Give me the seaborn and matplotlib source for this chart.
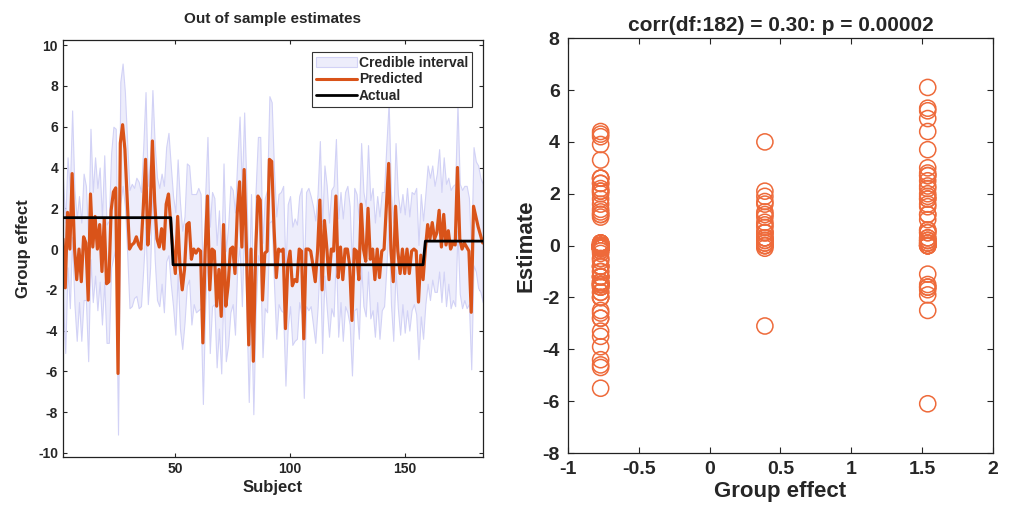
import numpy as np
import pandas as pd
import matplotlib
matplotlib.use("Agg")
import matplotlib.pyplot as plt
from matplotlib.patches import Patch
from matplotlib.lines import Line2D
import seaborn as sns

# values
predicted = [
    0.5, -1.9, 1.8, 0.0, 3.7, 0.1, -1.5, 0.0, -1.6, 0.6,
    0.3, -2.5, 2.7, 0.1, 1.6, 0.0, 1.2, -1.1, 1.5, -1.7,
    -1.6, 1.9, 2.8, 3.0, -6.1, 5.2, 6.1, 4.9, 2.5, 0.0,
    0.2, 0.3, 0.6, 0.2, 0.0, 2.0, 4.4, 0.2, 1.8, 5.3,
    2.3, 0.5, 0.1, 1.0, 0.0, 2.2, 2.7, 1.2, -0.1, -1.2,
    1.6, -0.8, -2.0, -1.0, 1.2, 1.3, -0.5, 0.0, -0.2, 0.0,
    -0.1, -4.6, -0.1, 2.6, -2.0, 0.0, -0.1, -2.8, -1.0, -3.3,
    1.2, -2.8, -1.8, 0.0, 0.1, -1.2, 1.8, 3.3, 0.1, 3.9,
    0.0, -4.7, 0.0, -5.5, -0.1, 2.6, 2.4, -2.5, -0.2, -0.1,
    4.4, 4.3, 1.1, -1.4, 0.0, -0.1, 0.0, -3.9, -0.8, -0.1,
    -1.8, -1.5, -1.6, 0.0, -0.1, -4.4, 0.0, 0.0, -0.1, -0.8,
    -1.6, -0.1, 2.4, -2.0, 1.4, 0.1, -1.5, 0.0, -0.1, 2.6,
    -1.4, 0.1, -1.5, 0.0, 0.0, -0.8, -3.5, 0.0, -0.1, -1.5,
    2.2, 0.0, -0.6, 2.0, -0.5, 0.0, -1.5, 0.0, -1.4, -0.1,
    0.0, 2.1, 4.2, 0.0, -1.6, 2.1, -0.1, -1.2, 0.0, -1.2,
    0.0, -1.2, -0.1, 0.0, -0.1, -2.6, -0.3, -1.5, 0.0, 1.2,
    0.5, 1.3, 0.5, 0.8, 1.9, 0.1, 1.7, 0.2, 0.9, 0.0,
    0.3, 0.2, 4.0, 0.5, 0.0, 0.3, 0.1, -0.1, -3.1, 2.1,
    1.6, 1.1, 0.7, 0.3,
]
half_width = [
    3.0, 3.2, 2.7, 2.9, 3.1, 2.8, 3.0, 2.6, 2.9, 3.1,
    2.8, 3.0, 3.2, 2.7, 2.9, 3.0, 2.8, 2.6, 3.1, 2.9,
    3.0, 2.8, 3.2, 2.9, 3.0, 3.0, 3.0, 2.8, 2.7, 2.9,
    3.0, 2.7, 2.9, 3.1, 2.8, 3.0, 3.3, 2.9, 2.7, 2.5,
    2.8, 3.0, 2.9, 2.7, 3.1, 2.8, 3.0, 2.9, 2.7, 3.0,
    2.8, 3.1, 2.9, 2.6, 3.0, 2.8, 3.2, 2.7, 2.9, 3.0,
    2.8, 3.0, 2.7, 2.9, 3.1, 2.8, 2.6, 3.0, 2.9, 2.8,
    3.0, 2.7, 2.9, 3.1, 2.8, 3.0, 2.6, 3.2, 2.9, 2.8,
    3.0, 2.8, 2.7, 2.6, 3.0, 2.9, 3.1, 2.8, 2.7, 3.0,
    3.1, 2.9, 2.8, 3.0, 2.7, 2.9, 3.1, 2.8, 3.0, 2.7,
    2.9, 3.0, 2.8, 2.6, 3.1, 2.9, 2.8, 3.0, 2.7, 2.9,
    3.0, 2.8, 2.9, 3.1, 2.7, 3.0, 2.8, 2.9, 3.2, 2.8,
    2.9, 2.7, 3.0, 2.8, 3.1, 2.9, 2.7, 3.0, 2.8, 2.9,
    3.0, 2.8, 2.7, 3.1, 2.9, 3.0, 2.8, 2.6, 3.0, 2.9,
    2.8, 3.0, 3.0, 2.7, 2.9, 3.1, 2.8, 3.0, 2.7, 2.9,
    3.0, 2.8, 2.9, 2.7, 3.1, 2.8, 3.0, 2.9, 2.7, 2.9,
    3.0, 2.8, 2.6, 2.9, 3.0, 2.7, 2.8, 3.0, 2.6, 2.9,
    2.8, 3.0, 3.1, 2.7, 2.9, 2.8, 3.0, 2.6, 2.8, 2.9,
    2.7, 3.0, 2.8, 2.9,
]
group_levels = [1.54, -0.77, 0.39]
group_sizes = [48, 110, 26]

left_yticks = [-10, -8, -6, -4, -2, 0, 2, 4, 6, 8, 10]
left_xticks = [50, 100, 150]
right_xticks = [-1, -0.5, 0, 0.5, 1, 1.5, 2]
right_xticklabels = ["-1", "-0.5", "0", "0.5", "1", "1.5", "2"]
right_yticks = [-8, -6, -4, -2, 0, 2, 4, 6, 8]

right_title = "corr(df:182) = 0.30: p = 0.00002"

ORANGE = "#D95319"
CIRCLE = "#EE6A3A"
BAND_FACE = "#EDEDFB"
BAND_EDGE = "#D2D2F6"

sns.set_style("ticks")
plt.rcParams["font.family"] = ["Liberation Sans", "DejaVu Sans"]
plt.rcParams["font.weight"] = "bold"
plt.rcParams["axes.labelweight"] = "bold"
plt.rcParams["axes.titleweight"] = "bold"
plt.rcParams["axes.unicode_minus"] = False
plt.rcParams["xtick.direction"] = "in"
plt.rcParams["ytick.direction"] = "in"
plt.rcParams["xtick.top"] = True
plt.rcParams["ytick.right"] = True
plt.rcParams["axes.edgecolor"] = "#222222"
plt.rcParams["axes.linewidth"] = 0.9

df = pd.DataFrame({
    "subject": np.arange(1, len(predicted) + 1),
    "predicted": predicted,
    "half_width": half_width,
    "actual": np.repeat(group_levels, group_sizes),
})
df["lower"] = df["predicted"] - df["half_width"]
df["upper"] = df["predicted"] + df["half_width"]

fig = plt.figure(figsize=(10.09, 5.16), dpi=100)
ax1 = fig.add_axes([0.0624, 0.1143, 0.416, 0.808])
ax2 = fig.add_axes([0.563, 0.122, 0.421, 0.804])

# left: out of sample estimates
ax1.fill_between(df["subject"], df["lower"], df["upper"], facecolor=BAND_FACE,
                 edgecolor=BAND_EDGE, linewidth=0.8, zorder=1)
sns.lineplot(data=df, x="subject", y="predicted", color=ORANGE, linewidth=2.3, ax=ax1, zorder=2)
sns.lineplot(data=df, x="subject", y="actual", color="black", linewidth=2.0, ax=ax1, zorder=3)
ax1.set_xlim(1, len(predicted))
ax1.set_ylim(-10.2, 10.25)
ax1.set_xticks(left_xticks)
ax1.set_yticks(left_yticks)
ax1.tick_params(labelsize=10, length=3, width=0.8)
ax1.set_title("Out of sample estimates", fontsize=11, pad=12)
ax1.set_xlabel("Subject", fontsize=12, labelpad=3)
ax1.set_ylabel("Group effect", fontsize=12, labelpad=5)
handles = [
    Patch(facecolor=BAND_FACE, edgecolor=BAND_EDGE, linewidth=0.8),
    Line2D([], [], color=ORANGE, linewidth=2.2),
    Line2D([], [], color="black", linewidth=2.0),
]
leg = ax1.legend(handles, ["Credible interval", "Predicted", "Actual"], loc="upper right",
                 bbox_to_anchor=(0.975, 0.972), borderaxespad=0, fontsize=10,
                 fancybox=False, framealpha=1, edgecolor="#333333", handlelength=2.9,
                 handletextpad=0.15, labelspacing=0.18, borderpad=0.3)
leg.get_frame().set_linewidth(0.8)

# right: estimate vs group effect
sns.scatterplot(data=df, x="actual", y="predicted", marker="o", s=135,
                facecolors="none", edgecolors=CIRCLE, linewidth=1.1, ax=ax2)
ax2.set_xlim(-1, 2)
ax2.set_ylim(-8, 8)
ax2.set_xticks(right_xticks)
ax2.set_xticklabels(right_xticklabels)
ax2.set_yticks(right_yticks)
ax2.tick_params(labelsize=14, length=4, width=0.8, pad=6)
ax2.set_title(right_title, fontsize=15, pad=5)
ax2.set_xlabel("Group effect", fontsize=16, labelpad=2)
ax2.set_ylabel("Estimate", fontsize=16, labelpad=4)

fig.savefig("out.png", dpi=100)
